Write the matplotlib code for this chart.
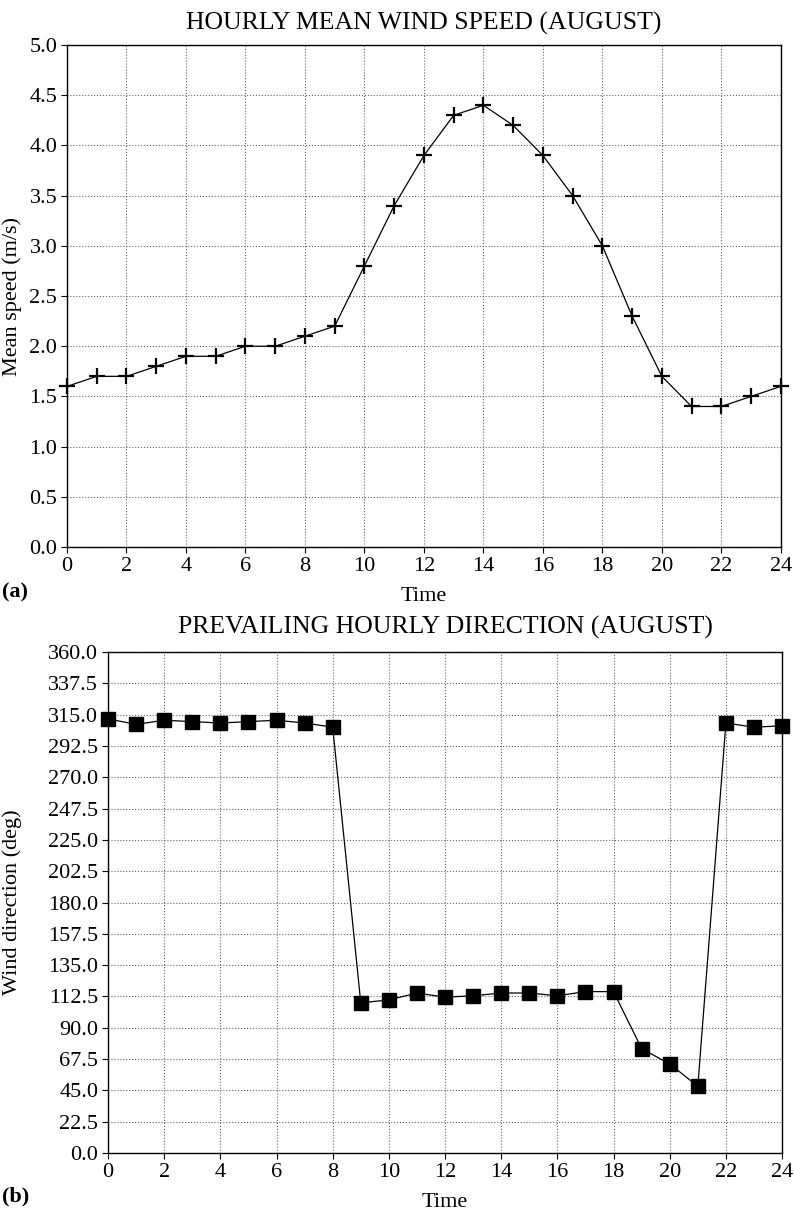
import matplotlib.pyplot as plt
import numpy as np

plt.rcParams['font.family'] = ['Liberation Serif', 'DejaVu Serif']

hours = np.arange(0, 25)
speed = [1.6, 1.7, 1.7, 1.8, 1.9, 1.9, 2.0, 2.0, 2.1, 2.2, 2.8, 3.4, 3.9,
         4.3, 4.4, 4.2, 3.9, 3.5, 3.0, 2.3, 1.7, 1.4, 1.4, 1.5, 1.6]
direction = [312, 308, 311, 310, 309, 310, 311, 309, 306, 108, 110, 115, 112,
             113, 115, 115, 113, 116, 116, 75, 64, 48, 309, 306, 307]

speed_ticks = np.arange(0, 5.01, 0.5)
dir_ticks = np.arange(0, 360.1, 22.5)
x_ticks = np.arange(0, 25, 2)

fig = plt.figure(figsize=(7.94, 12.14), dpi=100)

def style(ax):
    ax.set_xlim(0, 24)
    ax.set_xticks(x_ticks)
    ax.grid(True, linestyle=':', color='#666666', linewidth=0.8)
    ax.tick_params(labelsize=16, length=4, width=0.8, pad=3)
    for s in ax.spines.values():
        s.set_linewidth(1.0)
        s.set_color('black')

# (a) mean wind speed
ax1 = fig.add_axes([0.0844, 0.5494, 0.899, 0.4135])
ax1.plot(hours, speed, color='black', linewidth=0.9, marker='+',
         markersize=12, markeredgewidth=1.6, clip_on=False)
style(ax1)
ax1.set_ylim(0, 5.0)
ax1.set_yticks(speed_ticks)
ax1.set_yticklabels(['%.1f' % v for v in speed_ticks])
ax1.set_title('HOURLY MEAN WIND SPEED (AUGUST)', fontsize=18.5, pad=11)
ax1.set_ylabel('Mean speed (m/s)', fontsize=16)
ax1.yaxis.set_label_coords(-0.063, 0.5)
ax1.set_xlabel('Time', fontsize=16, labelpad=8)
fig.text(0.002, 1 - 592 / 1214, '(a)', fontsize=16, fontweight='bold',
         va='center')

# (b) prevailing direction
ax2 = fig.add_axes([0.136, 0.0502, 0.849, 0.4127])
ax2.plot(hours, direction, color='black', linewidth=0.9, marker='s',
         markersize=10, clip_on=False)
style(ax2)
ax2.set_ylim(0, 360)
ax2.set_yticks(dir_ticks)
ax2.set_yticklabels(['%.1f' % v for v in dir_ticks])
ax2.set_title('PREVAILING HOURLY DIRECTION (AUGUST)', fontsize=18.5, pad=13)
ax2.set_ylabel('Wind direction (deg)', fontsize=16)
ax2.yaxis.set_label_coords(-0.128, 0.5)
ax2.set_xlabel('Time', fontsize=16, labelpad=8)
fig.text(0.002, 1 - 1196 / 1214, '(b)', fontsize=16, fontweight='bold',
         va='center')

fig.savefig('out.png', dpi=100)
